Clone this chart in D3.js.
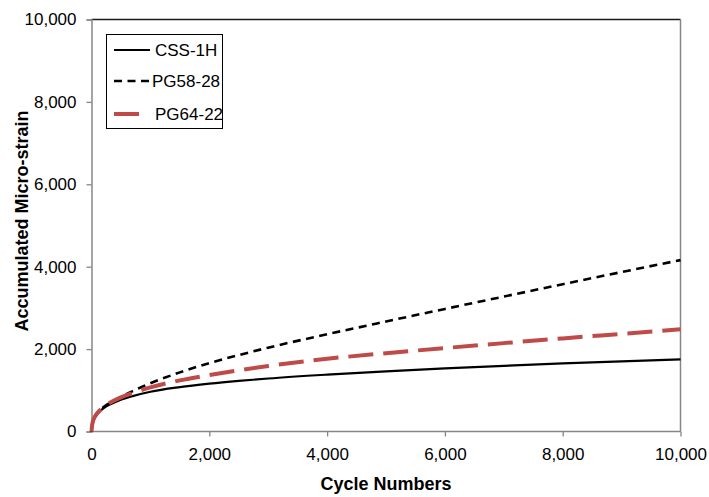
<!DOCTYPE html>
<html>
<head>
<meta charset="utf-8">
<script src="https://cdn.jsdelivr.net/npm/d3@7"></script>
<style>
  html, body { margin: 0; padding: 0; background: #fff; }
  svg { display: block; font-family: "Liberation Sans", Arial, sans-serif; }
</style>
</head>
<body>
<svg id="chart" width="709" height="497"></svg>
<script>
// Accumulated micro-strain versus load cycles for three binders
const cycles   = [0, 10, 25, 50, 100, 200, 350, 500, 700, 1000, 1500, 2000, 2500, 3000, 4000, 5000, 6000, 7000, 8000, 9000, 10000];
const css1h    = [0, 120, 210, 310, 420, 560, 680, 770, 860, 965, 1077, 1160, 1228, 1286, 1380, 1460, 1530, 1595, 1653, 1703, 1750];
const pg5828   = [0, 150, 250, 340, 450, 590, 730, 840, 980, 1170, 1435, 1660, 1855, 2035, 2360, 2670, 2975, 3275, 3575, 3870, 4160];
const pg6422   = [0, 150, 250, 340, 450, 590, 728, 830, 935, 1070, 1240, 1370, 1485, 1590, 1765, 1900, 2025, 2145, 2260, 2370, 2480];

const seriesNames = ["CSS-1H", "PG58-28", "PG64-22"];
const xTicks = [0, 2000, 4000, 6000, 8000, 10000];
const yTicks = [0, 2000, 4000, 6000, 8000, 10000];
const xTitle = "Cycle Numbers";
const yTitle = "Accumulated Micro-strain";

const series = [
  { name: seriesNames[0], values: css1h,  color: "#000000", width: 2.2, dash: null },
  { name: seriesNames[1], values: pg5828, color: "#000000", width: 2.6, dash: "8,5.5" },
  { name: seriesNames[2], values: pg6422, color: "#BE4B48", width: 4,   dash: "25,10" }
];

const svg = d3.select("#chart");
const plotLeft = 91.5, plotRight = 680.5, plotTop = 19.5, plotBottom = 431.5;
const axisGray = "#868686";

const x = d3.scaleLinear().domain([0, 10000]).range([plotLeft, plotRight]);
const y = d3.scaleLinear().domain([0, 10000]).range([plotBottom, plotTop]);
const fmt = d3.format(",");

// plot frame: top edge dark, right edge gray
svg.append("line").attr("x1", plotLeft).attr("x2", plotRight).attr("y1", plotTop).attr("y2", plotTop)
  .attr("stroke", "#1a1a1a").attr("stroke-width", 1.3);
svg.append("line").attr("x1", plotRight).attr("x2", plotRight).attr("y1", plotTop).attr("y2", plotBottom)
  .attr("stroke", axisGray).attr("stroke-width", 1.5);

// y axis
const yAxis = svg.append("g").attr("transform", `translate(${plotLeft},0)`)
  .call(d3.axisLeft(y).tickValues(yTicks).tickFormat(fmt).tickSize(5).tickPadding(10));
// x axis
const xAxis = svg.append("g").attr("transform", `translate(0,${plotBottom})`)
  .call(d3.axisBottom(x).tickValues(xTicks).tickFormat(fmt).tickSize(5).tickPadding(11));

[yAxis, xAxis].forEach(g => {
  g.select(".domain").attr("stroke", axisGray).attr("stroke-width", 1.5);
  g.selectAll(".tick line").attr("stroke", axisGray).attr("stroke-width", 1.3);
  g.selectAll(".tick text").attr("fill", "#000").attr("font-size", 17)
    .attr("font-family", "'Liberation Sans', Arial, sans-serif");
});
xAxis.select(".domain").attr("d", `M${plotLeft},0H${plotRight}`);
xAxis.selectAll(".tick").filter(d => d === 0).select("line").remove();

// axis titles
svg.append("text").attr("x", (plotLeft + plotRight) / 2).attr("y", 490)
  .attr("text-anchor", "middle").attr("font-size", 18).attr("font-weight", "bold")
  .text(xTitle);
svg.append("text").attr("transform", `translate(28,221) rotate(-90)`)
  .attr("text-anchor", "middle").attr("font-size", 18).attr("font-weight", "bold")
  .text(yTitle);

// curves
const line = d3.line()
  .x((d, i) => x(cycles[i]))
  .y(d => y(d))
  .curve(d3.curveMonotoneX);

const plot = svg.append("g");
series.forEach(s => {
  plot.append("path").datum(s.values)
    .attr("d", line)
    .attr("fill", "none")
    .attr("stroke", s.color)
    .attr("stroke-width", s.width)
    .attr("stroke-dasharray", s.dash)
    .attr("stroke-linejoin", "round");
});

// legend
const legend = svg.append("g");
legend.append("rect").attr("x", 106.5).attr("y", 34.5).attr("width", 116).attr("height", 94)
  .attr("fill", "#fff").attr("stroke", "#000").attr("stroke-width", 1);
const rowY = [50, 81, 114];
const lineX = [[114, 150], [114, 150], [114, 140]];
const textX = [155, 152, 155];
series.forEach((s, i) => {
  legend.append("line")
    .attr("x1", lineX[i][0]).attr("x2", lineX[i][1])
    .attr("y1", rowY[i]).attr("y2", rowY[i])
    .attr("stroke", s.color).attr("stroke-width", s.width)
    .attr("stroke-dasharray", s.dash);
  legend.append("text").attr("x", textX[i]).attr("y", rowY[i]).attr("dy", "0.35em")
    .attr("font-size", 17).text(s.name);
});
</script>
</body>
</html>
